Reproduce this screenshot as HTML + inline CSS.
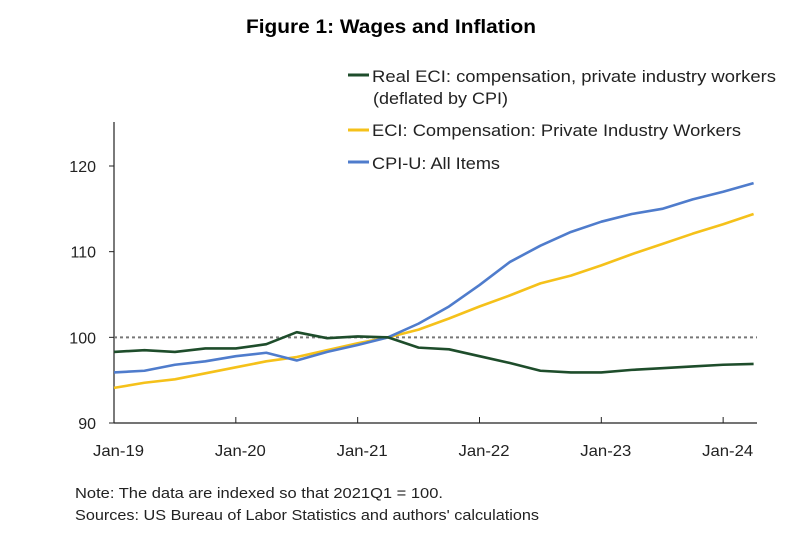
<!DOCTYPE html>
<html><head><meta charset="utf-8"><style>
html,body{margin:0;padding:0;background:#fff;}
body{width:806px;height:537px;overflow:hidden;font-family:"Liberation Sans",sans-serif;}
</style></head><body>
<svg id="chart" width="806" height="537" xmlns="http://www.w3.org/2000/svg" font-family="Liberation Sans, sans-serif">
<text x="246" y="33" textLength="290" lengthAdjust="spacingAndGlyphs" font-size="19" font-weight="bold" fill="#000">Figure 1: Wages and Inflation</text>
<g id="axes"></g>
<g id="series"></g>
<g font-size="17" fill="#222">
 <line x1="348" y1="75" x2="369" y2="75" stroke="#1e4d2b" stroke-width="3"/>
 <text x="372" y="82" textLength="404" lengthAdjust="spacingAndGlyphs">Real ECI: compensation, private industry workers</text>
 <text x="373" y="104" textLength="135" lengthAdjust="spacingAndGlyphs">(deflated by CPI)</text>
 <line x1="348" y1="130" x2="369" y2="130" stroke="#f5c11a" stroke-width="3"/>
 <text x="372" y="136" textLength="369" lengthAdjust="spacingAndGlyphs">ECI: Compensation: Private Industry Workers</text>
 <line x1="348" y1="162" x2="369" y2="162" stroke="#4f7ccc" stroke-width="3"/>
 <text x="372" y="169" textLength="128" lengthAdjust="spacingAndGlyphs">CPI-U: All Items</text>
</g>
<text x="75" y="498" textLength="368" lengthAdjust="spacingAndGlyphs" font-size="14.5" fill="#222">Note: The data are indexed so that 2021Q1 = 100.</text>
<text x="75" y="520" textLength="464" lengthAdjust="spacingAndGlyphs" font-size="14.5" fill="#222">Sources: US Bureau of Labor Statistics and authors' calculations</text>
</svg>
<script>
const realECI=[98.3,98.5,98.3,98.7,98.7,99.2,100.6,99.9,100.1,100,98.8,98.6,97.8,97.0,96.1,95.9,95.9,96.2,96.4,96.6,96.8,96.9];
const eci=[94.1,94.7,95.1,95.8,96.5,97.2,97.7,98.5,99.3,100,100.9,102.2,103.6,104.9,106.3,107.2,108.4,109.7,110.9,112.1,113.2,114.4];
const cpi=[95.9,96.1,96.8,97.2,97.8,98.2,97.3,98.3,99.1,100,101.6,103.6,106.1,108.8,110.7,112.3,113.5,114.4,115.0,116.1,117.0,118.0];
const yTicks=[90,100,110,120];
const xTickLabels=["Jan-19","Jan-20","Jan-21","Jan-22","Jan-23","Jan-24"];
const NS="http://www.w3.org/2000/svg";
const x0=114,x1=753.6,yb=423,yt=166,vmin=90,vmax=120;
const n=realECI.length;
function xs(i){return x0+i*(x1-x0)/(n-1);}
function ys(v){return yb-(v-vmin)/(vmax-vmin)*(yb-yt);}
function mk(tag,attrs,parent){const e=document.createElementNS(NS,tag);for(const k in attrs)e.setAttribute(k,attrs[k]);parent.appendChild(e);return e;}
const ax=document.getElementById('axes');
let e;
e=mk('line',{x1:x0,y1:122,x2:x0,y2:yb,stroke:'#222','stroke-width':1.2},ax);


e=mk('line',{x1:x0,y1:yb,x2:757,y2:yb,stroke:'#222','stroke-width':1.2},ax);


yTicks.forEach(v=>{
 mk('line',{x1:x0-5,y1:ys(v),x2:x0,y2:ys(v),stroke:'#222'},ax);
 const t=mk('text',{x:96,y:ys(v)+6,'text-anchor':'end','font-size':16,fill:'#222'},ax);
 t.textContent=v;
 
 
});
xTickLabels.forEach((lab,k)=>{
 const x=xs(k*4);
 if(k>0)mk('line',{x1:x,y1:yb,x2:x,y2:yb-6,stroke:'#222'},ax);
 const t=mk('text',{x:x-25+4,y:456,textLength:51,lengthAdjust:'spacingAndGlyphs','font-size':16,fill:'#222'},ax);
 t.textContent=lab;
 
 
});
e=mk('line',{x1:x0,y1:ys(100),x2:757,y2:ys(100),stroke:'#777','stroke-width':2,'stroke-dasharray':'3,3'},ax);


const sg=document.getElementById('series');
function line(arr,color,name){
 const p=mk('polyline',{points:arr.map((v,i)=>xs(i)+','+ys(v)).join(' '),fill:'none',stroke:color,'stroke-width':2.6,'stroke-linejoin':'round'},sg);
 
 
}
line(eci,'#f5c11a','eci-line');
line(cpi,'#4f7ccc','cpi-line');
line(realECI,'#1e4d2b','real-eci-line');
</script>
</body></html>
